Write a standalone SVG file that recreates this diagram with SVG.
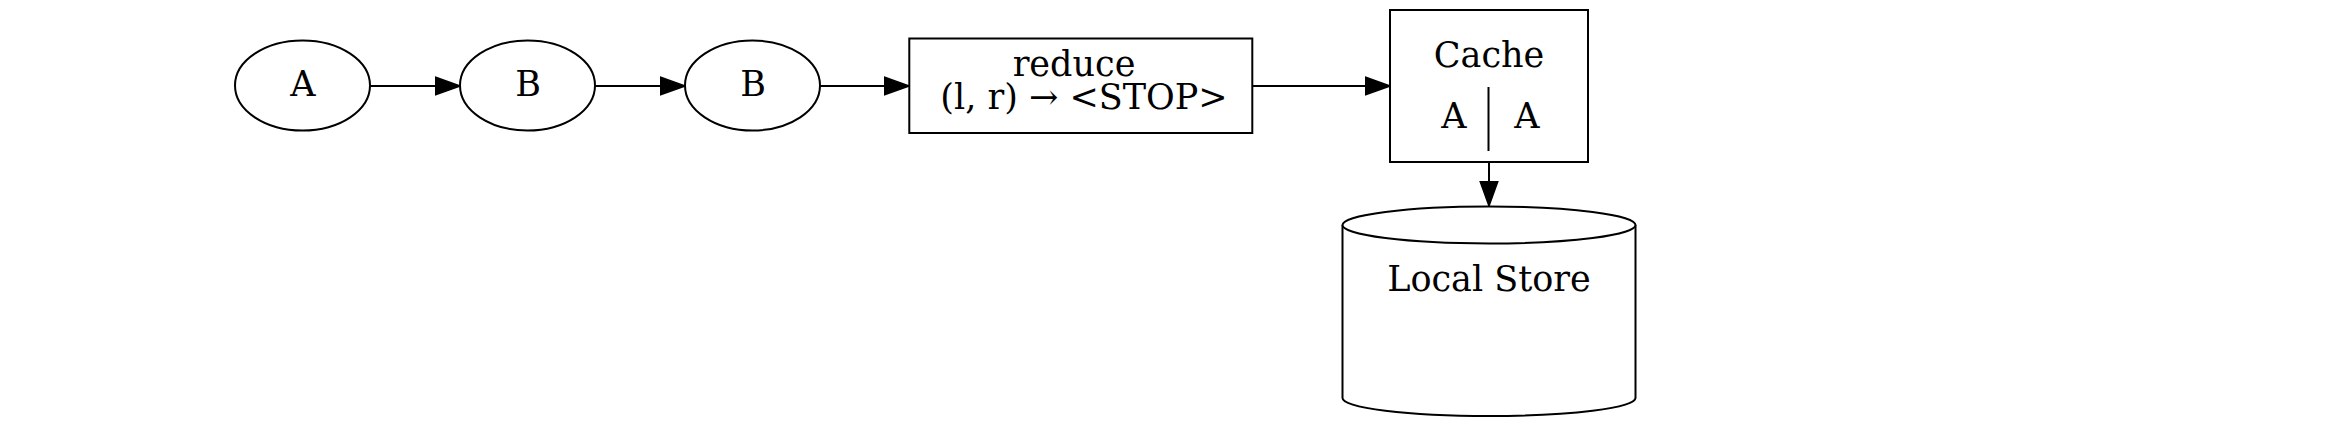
<svg xmlns="http://www.w3.org/2000/svg" width="2345" height="426" viewBox="0 0 2345 426">
<style>
.shape{fill:#fff;stroke:#000;stroke-width:2}
.edge{fill:none;stroke:#000;stroke-width:2}
text{font-family:"DejaVu Serif","Liberation Serif",serif;font-size:35px;fill:#000;text-anchor:middle}
</style>
<defs>
<marker id="arr" viewBox="0 0 26 20" refX="25" refY="10" markerWidth="26" markerHeight="20" markerUnits="userSpaceOnUse" orient="auto">
<path d="M0,1 L25,10 L0,19 z" fill="#000" stroke="#000" stroke-width="1.5"/>
</marker>
</defs>
<rect width="2345" height="426" fill="#fff"/>
<g id="connectors">
<path class="edge" d="M370,86 L460,86" marker-end="url(#arr)"/>
<path class="edge" d="M595,86 L685,86" marker-end="url(#arr)"/>
<path class="edge" d="M820,86 L909,86" marker-end="url(#arr)"/>
<path class="edge" d="M1253,86 L1390,86" marker-end="url(#arr)"/>
<path class="edge" d="M1489,162 L1489,206" marker-end="url(#arr)"/>
</g>
<g id="nodeA">
<ellipse class="shape" cx="302.5" cy="85.5" rx="67.5" ry="45"/>
<text x="303" y="96">A</text>
</g>
<g id="nodeB1">
<ellipse class="shape" cx="527.5" cy="85.5" rx="67.5" ry="45"/>
<text x="528" y="96">B</text>
</g>
<g id="nodeB2">
<ellipse class="shape" cx="752.5" cy="85.5" rx="67.5" ry="45"/>
<text x="753" y="96">B</text>
</g>
<g id="reduce">
<rect class="shape" x="909.3" y="38.5" width="343" height="94.5"/>
<text x="1074" y="76">reduce</text>
<text x="1084" y="108.5">(l, r) → &lt;STOP&gt;</text>
</g>
<g id="cache">
<rect class="shape" x="1390" y="10" width="198" height="152"/>
<text x="1489" y="67">Cache</text>
<line x1="1488.5" y1="87" x2="1488.5" y2="151" stroke="#000" stroke-width="2"/>
<text x="1454" y="128">A</text>
<text x="1527" y="128">A</text>
</g>
<g id="localstore">
<path class="shape" d="M1342.5,225 L1342.5,398 A146.5,18 0 0 0 1635.5,398 L1635.5,225"/>
<ellipse class="shape" cx="1489" cy="225" rx="146.5" ry="18.5"/>
<text x="1489" y="291">Local Store</text>
</g>
</svg>
